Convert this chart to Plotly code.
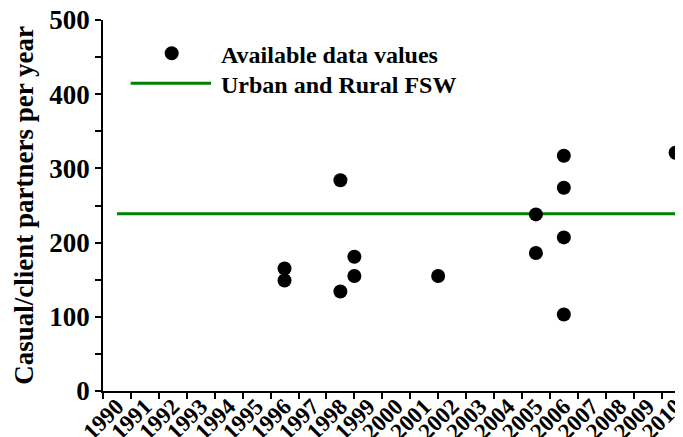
import plotly.graph_objects as go

# ---- data ----
year_ticks = list(range(1990, 2011))
tick_labels = [str(y) for y in year_ticks]

data_x = [1996, 1996, 1998, 1998, 1998.5, 1998.5, 2001.5,
          2005, 2005, 2006, 2006, 2006, 2006, 2010]
data_y = [165, 149, 284, 134, 181, 155, 155,
          238, 186, 317, 274, 207, 103, 321]

fsw_x = [1990, 2010]
fsw_y = [239, 239]

series_names = ["Available data values", "Urban and Rural FSW"]

FONT = "Liberation Serif"
OFF = 8  # page body margin
W, H = 683 - OFF, 437 - OFF
ML, MR, MT, MB = 103 - OFF, 0, 20 - OFF, 46
PW = W - ML - MR
PH = H - MT - MB


def px_x(px):  # screen px -> paper
    return (px - OFF - ML) / PW


def px_y(py):
    return (H - MB - (py - OFF)) / PH


fig = go.Figure()
fig.add_trace(go.Scatter(
    x=fsw_x, y=fsw_y, mode="lines",
    line=dict(color="#008000", width=3),
    name=series_names[1], showlegend=False, hoverinfo="skip"))
fig.add_trace(go.Scatter(
    x=data_x, y=data_y, mode="markers",
    marker=dict(color="black", size=14, line=dict(width=0)),
    name=series_names[0], showlegend=False, cliponaxis=False))

# manual legend
fig.add_shape(type="circle", xref="paper", yref="paper",
              xsizemode="pixel", ysizemode="pixel",
              xanchor=px_x(171.7), yanchor=px_y(53.3),
              x0=-7, x1=7, y0=-7, y1=7,
              fillcolor="black", line=dict(width=0))
fig.add_shape(type="line", xref="paper", yref="paper",
              x0=px_x(130.7), x1=px_x(211), y0=px_y(83.3), y1=px_y(83.3),
              line=dict(color="#008000", width=3))
for name, yy in zip(series_names, [55, 85]):
    fig.add_annotation(x=px_x(219), y=px_y(yy), xref="paper", yref="paper",
                       text="<b>%s</b>" % name, showarrow=False,
                       xanchor="left", yanchor="middle",
                       font=dict(family=FONT, size=24, color="black"))

fig.update_layout(
    width=W, height=H,
    margin=dict(l=ML, r=MR, t=MT, b=MB, autoexpand=False),
    paper_bgcolor="white", plot_bgcolor="white",
    font=dict(family=FONT, color="black"),
    showlegend=False,
)
fig.update_xaxes(
    range=[1989.5, 1989.5 + PW / 27.93],
    tickmode="array", tickvals=year_ticks,
    ticktext=["<b>%s</b>" % t for t in tick_labels],
    tickangle=-45, ticks="", ticklabelstandoff=-9,
    ticklabeloverflow="allow",
    tickfont=dict(family=FONT, size=23, color="black"),
    minor=dict(tick0=1989.5, dtick=1, ticks="outside", ticklen=6,
               tickcolor="black", tickwidth=1.5),
    showline=True, linecolor="black", linewidth=2,
    showgrid=False, zeroline=False, automargin=False,
)
fig.update_yaxes(
    range=[0, 500], dtick=100, tick0=0,
    ticks="outside", ticklen=6, tickcolor="black", tickwidth=1.5,
    minor=dict(dtick=50, ticks="outside", ticklen=6,
               tickcolor="black", tickwidth=1.5),
    tickfont=dict(family=FONT, size=27, color="black"),
    tickprefix="<b>", ticksuffix="</b>",
    ticklabelstandoff=0, ticklabeloverflow="allow",
    title=dict(text="<b>Casual/client partners per year</b>",
               font=dict(family=FONT, size=27, color="black"), standoff=8),
    showline=True, linecolor="black", linewidth=1.5,
    showgrid=False, zeroline=False, automargin=False,
)

fig.write_html("out.html")
